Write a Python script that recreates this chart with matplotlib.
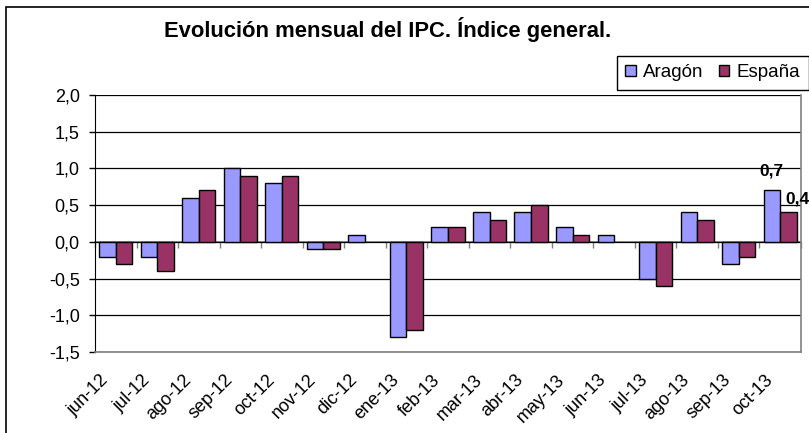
import numpy as np
import matplotlib
matplotlib.use("Agg")
import matplotlib.pyplot as plt
import matplotlib.transforms as mtransforms
from matplotlib.patches import Rectangle

plt.rcParams['font.family'] = ['Liberation Sans', 'DejaVu Sans']

meses = ["jun-12", "jul-12", "ago-12", "sep-12", "oct-12", "nov-12", "dic-12",
         "ene-13", "feb-13", "mar-13", "abr-13", "may-13", "jun-13", "jul-13",
         "ago-13", "sep-13", "oct-13"]
aragon = [-0.2, -0.2, 0.6, 1.0, 0.8, -0.1, 0.1, -1.3, 0.2, 0.4, 0.4, 0.2, 0.1,
          -0.5, 0.4, -0.3, 0.7]
espana = [-0.3, -0.4, 0.7, 0.9, 0.9, -0.1, 0.0, -1.2, 0.2, 0.3, 0.5, 0.1, 0.0,
          -0.6, 0.3, -0.2, 0.4]

W, H = 809, 433
fig = plt.figure(figsize=(W / 100, H / 100), dpi=100)
ax = fig.add_axes([95 / W, 1 - 352 / H, (801 - 95) / W, (352 - 95) / H])

x = np.arange(len(meses))
w = 0.4
b1 = ax.bar(x - w / 2, aragon, w, color="#9999FF", edgecolor="black", lw=1,
            label="Aragón", zorder=3)
b2 = ax.bar(x + w / 2, espana, w, color="#993366", edgecolor="black", lw=1,
            label="España", zorder=3)
# Excel draws nothing for a zero value
for bars in (b1, b2):
    for r in bars:
        if r.get_height() == 0:
            r.set_visible(False)

ax.set_xlim(-0.5, len(meses) - 0.5)
ax.set_ylim(-1.5, 2.0)
yt = np.arange(-1.5, 2.01, 0.5)
ax.set_yticks(yt)
ax.set_yticklabels([f"{v:.1f}".replace(".", ",") for v in yt])
ax.yaxis.grid(True, color="black", lw=0.9)
ax.set_axisbelow(True)
ax.tick_params(axis="y", direction="out", length=4, width=1, labelsize=13, pad=7)

# category labels at the bottom
ax.set_xticks(x)
ax.set_xticklabels(meses, rotation=45, ha="right", va="top",
                   rotation_mode="anchor", fontsize=13)
ax.tick_params(axis="x", length=0, pad=14)
offset = mtransforms.ScaledTranslation(-16 / 100, 0, fig.dpi_scale_trans)
for lab in ax.get_xticklabels():
    lab.set_transform(lab.get_transform() + offset)

ax.spines["top"].set_visible(False)
ax.spines["left"].set_color("black")
ax.spines["right"].set_color("#808080")
ax.spines["bottom"].set_color("#808080")
ax.spines["right"].set_linewidth(1.2)
ax.spines["bottom"].set_linewidth(1.2)

# zero axis with category boundary ticks
sec = ax.secondary_xaxis(0, transform=ax.transData)
sec.set_xticks(np.arange(-0.5, len(meses), 1.0))
sec.set_xticklabels([])
sec.tick_params(direction="out", length=4, width=1, color="#808080")
sec.spines["bottom"].set_color("#808080")
sec.spines["bottom"].set_linewidth(1.2)

# data labels for the last month
ax.annotate("0,7", (x[-1] - w / 2, aragon[-1]), xytext=(0, 8.5),
            textcoords="offset points", ha="center", va="bottom",
            fontsize=12.5, fontweight="bold")
ax.annotate("0,4", (x[-1] + w / 2, espana[-1]), xytext=(6.5, 4),
            textcoords="offset points", ha="center", va="bottom",
            fontsize=12.5, fontweight="bold", annotation_clip=False)

fig.text(388 / W, 1 - 29 / H, "Evolución mensual del IPC. Índice general.",
         ha="center", va="center", fontsize=15.8, fontweight="bold")

leg = fig.legend(handles=[b1, b2], loc="upper left",
                 bbox_to_anchor=(617 / W, 1 - 56 / H), ncol=2, fontsize=13.5,
                 frameon=True, fancybox=False, edgecolor="black",
                 framealpha=1, borderpad=0.45, handlelength=0.55,
                 handleheight=0.55, handletextpad=0.4, columnspacing=0.8,
                 borderaxespad=0)
leg.get_frame().set_linewidth(1)

fig.patches.append(Rectangle((6 / W, -0.1), 1.2, 1.1 - 7 / H, fill=False,
                             edgecolor="black", lw=1.2,
                             transform=fig.transFigure))

fig.savefig("out.png", dpi=100)
